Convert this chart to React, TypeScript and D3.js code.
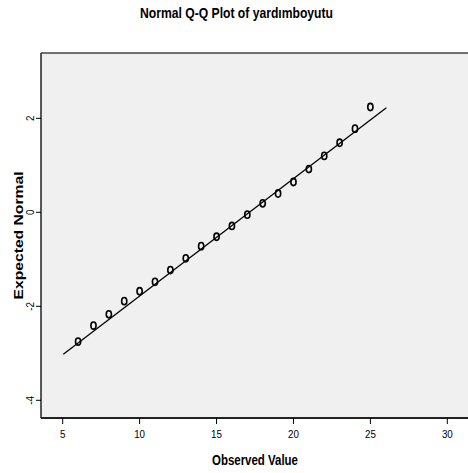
import React from "react";
import * as d3 from "d3";

const observed = [6, 7, 8, 9, 10, 11, 12, 13, 14, 15, 16, 17, 18, 19, 20, 21, 22, 23, 24, 25];
const expected = [-2.75, -2.41, -2.17, -1.89, -1.68, -1.48, -1.23, -0.98, -0.72, -0.52, -0.29, -0.05, 0.19, 0.40, 0.645, 0.92, 1.20, 1.48, 1.78, 2.24];
const lineObserved = [5.04, 26.04];
const lineExpected = [-3.02, 2.226];
const xTicks = [5, 10, 15, 20, 25, 30];
const yTicks = [-4, -2, 0, 2];

const W = 468, H = 473;
const L = 41, R = 468, T = 53, B = 418;
const FONT = "'Liberation Sans', Arial, sans-serif";

export default function App() {
  const x = d3.scaleLinear().domain([5, 30]).range([62.7, 447.3]);
  const y = d3.scaleLinear().domain([0, 2]).range([212.3, 118.3]);
  const line = d3.line<number>().x((d, i) => x(lineObserved[i])).y((d, i) => y(lineExpected[i]));
  return (
    <svg width={W} height={H} style={{ position: "absolute", left: 0, top: 0, background: "#fff" }}>
      <text x={236.5} y={18} textAnchor="middle" fontFamily={FONT} fontWeight="bold" fontSize={14.5} fill="#000" textLength={193} lengthAdjust="spacingAndGlyphs">
        Normal Q-Q Plot of yardımboyutu
      </text>
      <rect x={L} y={T} width={R - L} height={B - T} fill="#f0f0f0" />
      <line x1={L} x2={R} y1={T} y2={T} stroke="#444" strokeWidth={1.5} />
      <line x1={L} x2={L} y1={T} y2={B} stroke="#222" strokeWidth={1.5} />
      <line x1={L} x2={R} y1={B} y2={B} stroke="#222" strokeWidth={2} />
      {xTicks.map((t) => (
        <g key={"x" + t}>
          <line x1={x(t)} x2={x(t)} y1={B} y2={B + 6} stroke="#000" strokeWidth={1} />
          <text transform={`translate(${x(t)},${B + 20}) scale(0.85,1)`} textAnchor="middle" fontFamily={FONT} fontSize={11.5} fill="#000">{t}</text>
        </g>
      ))}
      {yTicks.map((t) => (
        <g key={"y" + t}>
          <line x1={L - 5} x2={L} y1={y(t)} y2={y(t)} stroke="#000" strokeWidth={1} />
          <text transform={`translate(${L - 7},${y(t)}) rotate(-90) scale(0.85,1)`} textAnchor="middle" fontFamily={FONT} fontSize={11.5} fill="#000">{t}</text>
        </g>
      ))}
      <path d={line(lineObserved) || ""} fill="none" stroke="#000" strokeWidth={1.3} />
      {observed.map((v, i) => (
        <ellipse key={i} cx={x(v)} cy={y(expected[i])} rx={2.6} ry={3.6} fill="none" stroke="#000" strokeWidth={1.6} />
      ))}
      <text transform={`translate(23,${(T + B) / 2}) rotate(-90)`} textAnchor="middle" fontFamily={FONT} fontWeight="bold" fontSize={13} fill="#000" textLength={128} lengthAdjust="spacingAndGlyphs">
        Expected Normal
      </text>
      <text x={255} y={465} textAnchor="middle" fontFamily={FONT} fontWeight="bold" fontSize={14.5} fill="#000" textLength={86} lengthAdjust="spacingAndGlyphs">
        Observed Value
      </text>
    </svg>
  );
}
